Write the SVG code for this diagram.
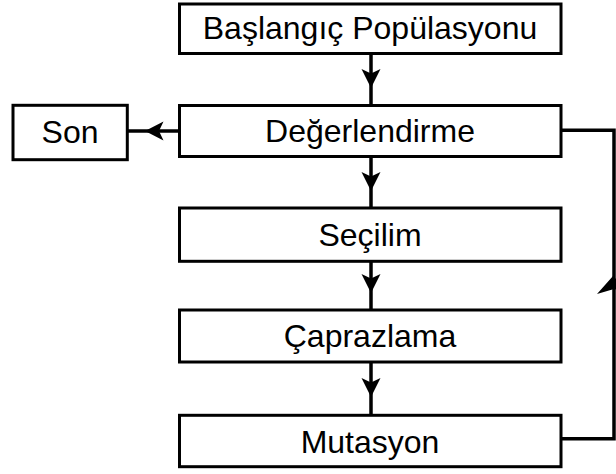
<svg xmlns="http://www.w3.org/2000/svg" width="616" height="474" viewBox="0 0 616 474">
<style>
.box{fill:#fff;stroke:#000;stroke-width:3}
.lbl{font-family:"Liberation Sans",Arial,sans-serif;font-size:32px;fill:#000;text-anchor:middle}
.ln{fill:none;stroke:#000;stroke-width:3.5}
.ah{fill:#000;stroke:none}
</style>
<rect width="616" height="474" fill="#fff"/>
<g id="connectors">
<line class="ln" x1="371" y1="53" x2="371" y2="105"/>
<path class="ah" d="M371,88 L361.5,69 L371,73.5 L380.5,69 Z"/>
<line class="ln" x1="371" y1="156" x2="371" y2="208"/>
<path class="ah" d="M371,191 L361.5,172 L371,176.5 L380.5,172 Z"/>
<line class="ln" x1="371" y1="261" x2="371" y2="310"/>
<path class="ah" d="M371,293 L361.5,274 L371,278.5 L380.5,274 Z"/>
<line class="ln" x1="371" y1="362" x2="371" y2="415"/>
<path class="ah" d="M371,397 L361.5,378 L371,382.5 L380.5,378 Z"/>
<line class="ln" x1="179" y1="131" x2="127" y2="131"/>
<path class="ah" d="M145,131 L163.5,121.5 L159,131 L163.5,140.5 Z"/>
<path class="ln" d="M561,130.3 H614 V438.7 H561"/>
<path class="ah" d="M613,276 L597,294 L614,289 L631,294 Z"/>
</g>
<g id="n-baslangic">
<rect class="box" x="179.5" y="4" width="381.5" height="49.5"/>
<text class="lbl" x="370" y="39">Başlangıç Popülasyonu</text>
</g>
<g id="n-degerlendirme">
<rect class="box" x="179.5" y="105.5" width="381.5" height="51"/>
<text class="lbl" x="370" y="142">Değerlendirme</text>
</g>
<g id="n-son">
<rect class="box" x="13" y="105.3" width="114.3" height="54.4"/>
<text class="lbl" x="70" y="142.5">Son</text>
</g>
<g id="n-secilim">
<rect class="box" x="179.5" y="208" width="381.5" height="53.3"/>
<text class="lbl" x="370" y="245.5">Seçilim</text>
</g>
<g id="n-caprazlama">
<rect class="box" x="179.5" y="310" width="381.5" height="52"/>
<text class="lbl" x="370" y="347">Çaprazlama</text>
</g>
<g id="n-mutasyon">
<rect class="box" x="179.5" y="415.3" width="381.5" height="51.4"/>
<text class="lbl" x="370" y="452.5">Mutasyon</text>
</g>
</svg>
